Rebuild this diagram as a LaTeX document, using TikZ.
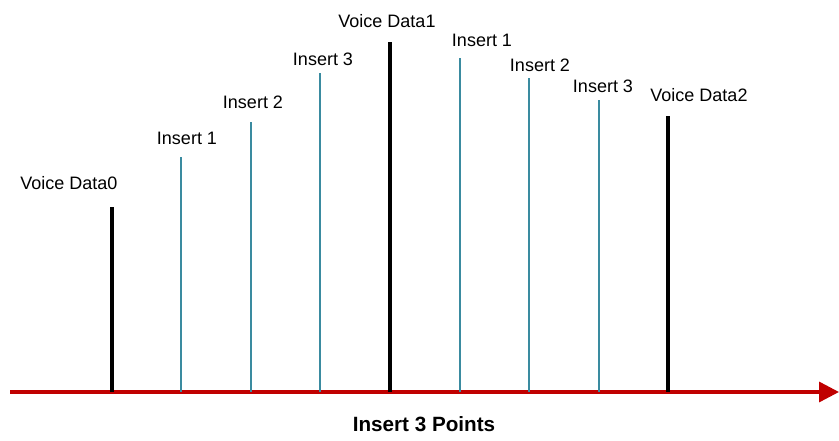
\documentclass[tikz,border=0pt]{standalone}
\usepackage{fontspec}
\setmainfont{Liberation Sans}
\usetikzlibrary{arrows.meta}
\definecolor{axisred}{HTML}{C00000}
\definecolor{insteal}{HTML}{3A8BA0}
\tikzset{
  voicebar/.style={line width=2.6pt,black},
  insbar/.style={line width=1.5pt,insteal},
  lbl/.style={font=\fontsize{13.5}{16}\selectfont,inner sep=0pt},
}
\begin{document}
\begin{tikzpicture}[x=0.75pt,y=-0.75pt]
    \useasboundingbox (0,0) rectangle (839,441);
    % time axis
    \coordinate (ax0) at (10,392);
    \coordinate (ax1) at (839,392);
    \draw[line width=2.6pt,axisred,-{Triangle[length=15pt,width=15pt]}] (ax0) -- (ax1);
    % voice data samples
    \coordinate (v0) at (112,392);  \coordinate (v0t) at (112,207);
    \coordinate (v1) at (390,392);  \coordinate (v1t) at (390,42);
    \coordinate (v2) at (668,392);  \coordinate (v2t) at (668,116);
    \draw[voicebar] (v0) -- (v0t);
    \draw[voicebar] (v1) -- (v1t);
    \draw[voicebar] (v2) -- (v2t);
    % inserted points
    \coordinate (a1) at (181,392);  \coordinate (a1t) at (181,157);
    \coordinate (a2) at (251,392);  \coordinate (a2t) at (251,122);
    \coordinate (a3) at (320,392);  \coordinate (a3t) at (320,73);
    \coordinate (b1) at (460,392);  \coordinate (b1t) at (460,58);
    \coordinate (b2) at (529,392);  \coordinate (b2t) at (529,78);
    \coordinate (b3) at (599,392);  \coordinate (b3t) at (599,100);
    \draw[insbar] (a1) -- (a1t);
    \draw[insbar] (a2) -- (a2t);
    \draw[insbar] (a3) -- (a3t);
    \draw[insbar] (b1) -- (b1t);
    \draw[insbar] (b2) -- (b2t);
    \draw[insbar] (b3) -- (b3t);
    % labels
    \node[lbl] (lv0) at (69,183) {Voice Data0};
    \node[lbl] (la1) at (187,138) {Insert 1};
    \node[lbl] (la2) at (253,102) {Insert 2};
    \node[lbl] (la3) at (323,59) {Insert 3};
    \node[lbl] (lv1) at (387,21) {Voice Data1};
    \node[lbl] (lb1) at (482,40) {Insert 1};
    \node[lbl] (lb2) at (540,65) {Insert 2};
    \node[lbl] (lb3) at (603,86) {Insert 3};
    \node[lbl] (lv2) at (699,95) {Voice Data2};
    \node[lbl,font=\fontsize{15.5}{18}\selectfont\bfseries] (title) at (424,424) {Insert 3 Points};
\end{tikzpicture}
\end{document}
